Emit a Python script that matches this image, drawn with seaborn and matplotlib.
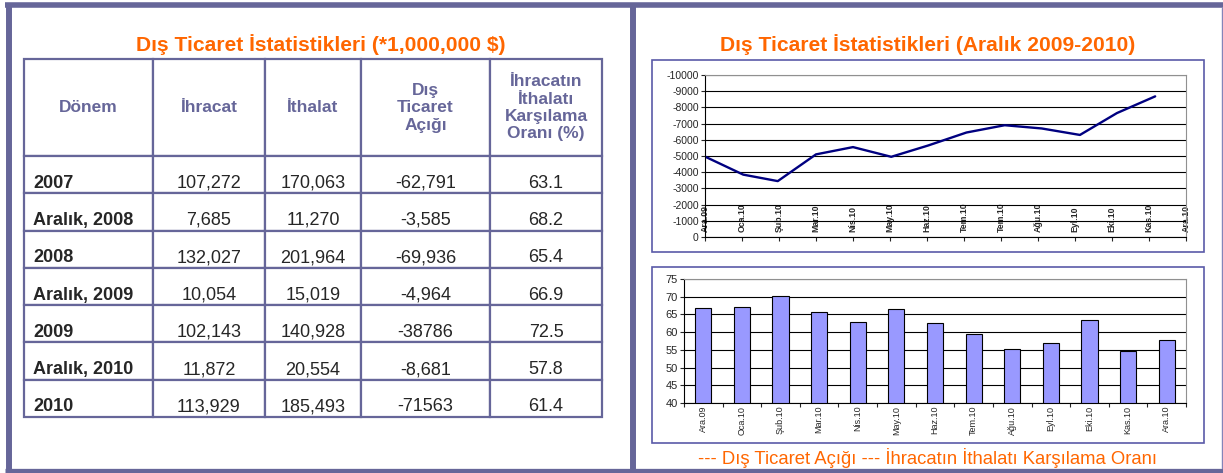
import numpy as np
import pandas as pd
import matplotlib.pyplot as plt
import seaborn as sns
from matplotlib.lines import Line2D
from matplotlib.patches import Rectangle

sns.set_style("ticks")
plt.rcParams['font.family'] = ['Liberation Sans', 'DejaVu Sans']
plt.rcParams['axes.unicode_minus'] = False

# table data (*1,000,000 $)
headers = ["Dönem", "İhracat", "İthalat", "Dış\nTicaret\nAçığı",
           "İhracatın\nİthalatı\nKarşılama\nOranı (%)"]
periods = ["2007", "Aralık, 2008", "2008", "Aralık, 2009", "2009", "Aralık, 2010", "2010"]
exports = ["107,272", "7,685", "132,027", "10,054", "102,143", "11,872", "113,929"]
imports = ["170,063", "11,270", "201,964", "15,019", "140,928", "20,554", "185,493"]
deficit = ["-62,791", "-3,585", "-69,936", "-4,964", "-38786", "-8,681", "-71563"]
coverage = ["63.1", "68.2", "65.4", "66.9", "72.5", "57.8", "61.4"]

# monthly data, Aralık 2009 - Aralık 2010
months = ["Ara.09", "Oca.10", "Şub.10", "Mar.10", "Nis.10", "May.10", "Haz.10",
          "Tem.10", "Ağu.10", "Eyl.10", "Eki.10", "Kas.10", "Ara.10"]
month_day = [0, 31, 59, 90, 120, 151, 181, 212, 243, 273, 304, 334, 365]  # days after 31.12.2009
monthly_deficit = [-4964, -3850, -3450, -5100, -5550, -4950, -5650,
                   -6450, -6900, -6700, -6300, -7650, -8681]
monthly_ratio = [66.9, 67.0, 70.1, 65.8, 62.9, 66.5, 62.5, 59.6, 55.2, 56.8, 63.4, 54.8, 57.8]
# excel date axis labels (every 30 days)
date_labels = ["Ara.09", "Oca.10", "Şub.10", "Mar.10", "Nis.10", "May.10", "Haz.10",
               "Tem.10", "Tem.10", "Ağu.10", "Eyl.10", "Eki.10", "Kas.10", "Ara.10"]

W, H = 1223, 473
frame = '#666699'
orange = '#FF6600'

def fx(px):
    return px / W

def fy(py):
    return 1 - py / H

fig = plt.figure(figsize=(W / 100, H / 100), dpi=100)

# outer frames
for xs, ys, lw in [([5, W], [5.5, 5.5], 4.0), ([5, W], [470.5, 470.5], 3.8),
                   ([8.7, 8.7], [2.7, H], 4.3), ([633, 633], [2.7, H], 4.3)]:
    fig.add_artist(Line2D([fx(x) for x in xs], [fy(y) for y in ys], lw=lw,
                          color=frame, solid_capstyle='butt'))
fig.add_artist(Line2D([fx(1222), fx(1222)], [fy(8), fy(468)], lw=1.0, color='#8484B8'))

# titles
fig.text(fx(321), fy(45), "Dış Ticaret İstatistikleri (*1,000,000 $)", ha='center', va='center',
         fontsize=15.1, fontweight='bold', color=orange)
fig.text(fx(928), fy(45), "Dış Ticaret İstatistikleri (Aralık 2009-2010)", ha='center', va='center',
         fontsize=15.1, fontweight='bold', color=orange)

# table
ax_t = fig.add_axes([fx(23.5), fy(417), fx(602) - fx(23.5), fy(59.5) - fy(417)])
ax_t.axis('off')
rows = [list(r) for r in zip(periods, exports, imports, deficit, coverage)]
col_w = np.array([129.5, 112, 96, 129, 112])
tbl = ax_t.table(cellText=rows, colLabels=headers, colWidths=list(col_w / col_w.sum()),
                 cellLoc='center', bbox=[0, 0, 1, 1])
tbl.auto_set_font_size(False)
row_h = tbl[1, 0].get_height()
for (r, c), cell in tbl.get_celld().items():
    cell.set_edgecolor(frame)
    cell.set_linewidth(1.6)
    txt = cell.get_text()
    if r == 0:
        cell.set_height(row_h * 2.59)
        txt.set_fontsize(12.5)
        txt.set_fontweight('bold')
        txt.set_color(frame)
    else:
        txt.set_fontsize(13)
        txt.set_va('top')
        if c == 0:
            txt.set_ha('left')
            txt.set_fontweight('bold')
            cell.PAD = 0.075

# line chart: trade deficit
ax1 = fig.add_axes([fx(705), fy(237), fx(1186) - fx(705), fy(75) - fy(237)])
sns.lineplot(x=month_day, y=monthly_deficit, ax=ax1, color='#000080', lw=1.7)
ax1.set_ylim(0, -10000)
ax1.set_yticks(np.arange(0, -10001, -1000))
ax1.set_xlim(0, 390)
ax1.set_xticks(np.arange(0, 391, 30))
ax1.set_xticklabels(date_labels, rotation=90, fontsize=6.3, fontweight='bold', va='bottom')
ax1.tick_params(axis='x', length=3, width=0.8, pad=-6.5)
ax1.tick_params(axis='y', length=3, width=0.8, labelsize=7.5, pad=1.5)
ax1.yaxis.grid(True, color='black', lw=0.8)
ax1.set_xlabel('')
ax1.set_ylabel('')

# bar chart: coverage ratio
ax2 = fig.add_axes([fx(684), fy(403), fx(1186) - fx(684), fy(279) - fy(403)])
df = pd.DataFrame({'month': months, 'ratio': monthly_ratio})
sns.barplot(data=df, x='month', y='ratio', ax=ax2, color='#9999FF', saturation=1,
            edgecolor='black', linewidth=0.8, width=0.42)
ax2.set_axisbelow(True)
ax2.set_ylim(40, 75)
ax2.set_yticks(np.arange(40, 76, 5))
ax2.set_xlim(-0.5, len(months) - 0.5)
ax2.set_xticks(np.arange(-0.5, len(months), 1), minor=True)
ax2.set_xticks(range(len(months)))
ax2.set_xticklabels(months, rotation=90, fontsize=6.5)
ax2.tick_params(axis='x', which='major', length=0, pad=2)
ax2.tick_params(axis='x', which='minor', length=3, width=0.8)
ax2.tick_params(axis='y', length=3, width=0.8, labelsize=8, pad=1.5)
ax2.yaxis.grid(True, color='black', lw=0.8)
ax2.set_xlabel('')
ax2.set_ylabel('')

for ax in (ax1, ax2):
    for s in ('left', 'bottom'):
        ax.spines[s].set_color('black')
        ax.spines[s].set_linewidth(0.8)
    for s in ('top', 'right'):
        ax.spines[s].set_visible(True)
        ax.spines[s].set_color('#909090')
        ax.spines[s].set_linewidth(0.8)

# chart boxes
for top, bottom in [(60.5, 252), (266.5, 442.5)]:
    fig.add_artist(Rectangle((fx(652), fy(bottom)), fx(1204.3) - fx(652), fy(top) - fy(bottom),
                             fill=False, ec='#5A5AA8', lw=1.2, transform=fig.transFigure))

fig.text(fx(928), fy(458), "--- Dış Ticaret Açığı --- İhracatın İthalatı Karşılama Oranı",
         ha='center', va='center', fontsize=13.3, color=orange)

fig.savefig('out.png', dpi=100)
